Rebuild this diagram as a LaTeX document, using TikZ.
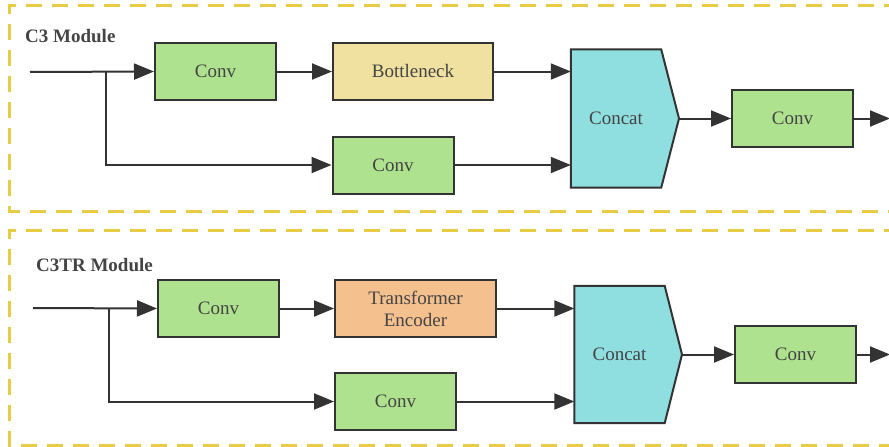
\documentclass[tikz,border=0pt]{standalone}
\usepackage{fontspec}
\setmainfont{Liberation Serif}
\newfontfamily\tms{Liberation Serif}
\usetikzlibrary{arrows.meta,calc}
\definecolor{gfill}{HTML}{AEE28E}
\definecolor{yfill}{HTML}{F0E1A0}
\definecolor{ofill}{HTML}{F4C08E}
\definecolor{cfill}{HTML}{8FDEE0}
\definecolor{edge}{HTML}{333333}
\definecolor{txt}{HTML}{444444}
\definecolor{dashc}{HTML}{E9CC45}
\tikzset{
  blk/.style={draw=edge, line width=2pt, rectangle, inner sep=0pt, text=txt,
    font=\tms\fontsize{19}{19}\selectfont, align=center},
  conv/.style={blk, fill=gfill, minimum width=121pt, minimum height=57pt},
  bneck/.style={blk, fill=yfill, minimum width=160pt, minimum height=57pt},
  tenc/.style={blk, fill=ofill, minimum width=161pt, minimum height=57pt},
  cc/.style={rectangle, inner sep=0pt, text=txt, font=\tms\fontsize{19}{19}\selectfont,
    minimum width=90pt},
  conn/.style={draw=edge, line width=2pt},
  arr/.style={conn, -{Triangle[length=20pt,width=16pt]}},
  modbox/.style={draw=dashc, line width=3pt, dash pattern=on 16pt off 10pt},
  title/.style={anchor=base west, font=\tms\fontsize{19}{19}\selectfont\bfseries, text=txt, inner sep=0pt}
}
\begin{document}
\begin{tikzpicture}[x=1pt,y=-1pt]
\useasboundingbox (0,0) rectangle (889,447);
\clip (0,0) rectangle (889,447);
% ---------- C3 module ----------
\draw[modbox] (900,5) -- (9,5) -- (9,211) -- (900,211);
\node[title] (t1) at (25,42) {C3 Module};
\coordinate (in1) at (30,72);
\coordinate (br1) at (106,72);
\node[conv] (a1) at (215.5,71.5) {Conv};
\node[bneck] (b1) at (413,71.5) {Bottleneck};
\node[conv] (c1) at (393,165) {Conv};
\node[cc, minimum height=138pt] (k1) at (616,118.5) {};
\coordinate (tip1) at (679,118.5);
\draw[draw=edge, line width=2pt, fill=cfill, line join=miter]
  (k1.south west) -- (k1.north west) -- (k1.north east) -- (tip1) -- (k1.south east) -- cycle;
\node[cc] (k1t) at (k1) {Concat};
\node[conv] (d1) at (792.5,118.5) {Conv};
\coordinate (out1) at (890,118.5);
\draw[arr] (in1) -- (a1.west);
\draw[arr] (br1) |- (c1.west);
\draw[arr] (a1.east) -- (b1.west);
\draw[arr] (b1.east) -- (b1.east -| k1.west);
\draw[arr] (c1.east) -- (c1.east -| k1.west);
\draw[arr] (tip1) -- (d1.west);
\draw[arr] (d1.east) -- (out1);
% ---------- C3TR module ----------
\draw[modbox] (900,230) -- (9,230) -- (9,445) -- (900,445);
\node[title] (t2) at (36,271) {C3TR Module};
\coordinate (in2) at (33,308);
\coordinate (br2) at (109,308);
\node[conv] (a2) at (218.5,308.5) {Conv};
\node[tenc] (b2) at (415.5,308.5) {Transformer\\[3pt]Encoder};
\node[conv] (c2) at (395.5,401.5) {Conv};
\node[cc, minimum height=137pt] (k2) at (619.5,354.5) {};
\coordinate (tip2) at (682,354.5);
\draw[draw=edge, line width=2pt, fill=cfill, line join=miter]
  (k2.south west) -- (k2.north west) -- (k2.north east) -- (tip2) -- (k2.south east) -- cycle;
\node[cc] (k2t) at (k2) {Concat};
\node[conv] (d2) at (795.5,354.5) {Conv};
\coordinate (out2) at (890,354.5);
\draw[arr] (in2) -- (a2.west);
\draw[arr] (br2) |- (c2.west);
\draw[arr] (a2.east) -- (b2.west);
\draw[arr] (b2.east) -- (b2.east -| k2.west);
\draw[arr] (c2.east) -- (c2.east -| k2.west);
\draw[arr] (tip2) -- (d2.west);
\draw[arr] (d2.east) -- (out2);
\end{tikzpicture}
\end{document}
